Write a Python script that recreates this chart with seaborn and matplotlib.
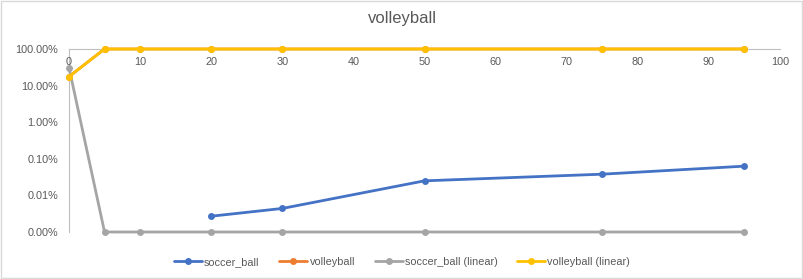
import numpy as np
import pandas as pd
import matplotlib
matplotlib.use("Agg")
import matplotlib.pyplot as plt
from matplotlib.patches import Rectangle
from matplotlib.ticker import FuncFormatter, FixedLocator, NullLocator
import seaborn as sns

# ----------------------------
# Data
# ----------------------------

soccer_x = [20, 30, 50, 75, 95]
soccer_y = [0.000027, 0.000044, 0.00025, 0.00038, 0.00063]

volley_x = [0, 5, 10, 20, 30, 50, 75, 95]
volley_y = [0.176, 1.0, 1.0, 1.0, 1.0, 1.0, 1.0, 1.0]

soccer_lin_x = [0, 5, 10, 20, 30, 50, 75, 95]
soccer_lin_y = [0.31, 0.00001, 0.00001, 0.00001, 0.00001, 0.00001, 0.00001, 0.00001]

volley_lin_x = [0, 5, 10, 20, 30, 50, 75, 95]
volley_lin_y = [0.176, 1.0, 1.0, 1.0, 1.0, 1.0, 1.0, 1.0]

y_ticks = [0.00001, 0.0001, 0.001, 0.01, 0.1, 1.0]
x_ticks = [0, 10, 20, 30, 40, 50, 60, 70, 80, 90, 100]

series = [
    ("soccer_ball", soccer_x, soccer_y, "#4472C4"),
    ("volleyball", volley_x, volley_y, "#ED7D31"),
    ("soccer_ball (linear)", soccer_lin_x, soccer_lin_y, "#A5A5A5"),
    ("volleyball (linear)", volley_lin_x, volley_lin_y, "#FFC000"),
]

# ----------------------------
# Style
# ----------------------------

sns.set_style("white")
plt.rcParams["font.family"] = ["Liberation Sans", "DejaVu Sans"]
text_color = "#595959"

fig = plt.figure(figsize=(8.04, 2.79), dpi=100)
ax = fig.add_axes([69 / 804, 1 - 232 / 279, (780 - 69) / 804, (232 - 49) / 279])

for name, xs, ys, color in series:
    df = pd.DataFrame({"x": xs, "y": ys})
    sns.lineplot(
        data=df, x="x", y="y", ax=ax,
        color=color, linewidth=2, marker="o", markersize=5,
        markeredgewidth=0, label=name, clip_on=False,
    )

ax.set_yscale("log")
ax.set_ylim(0.00001, 1.0)
ax.set_xlim(0, 100)

ax.yaxis.set_major_locator(FixedLocator(y_ticks))
ax.yaxis.set_minor_locator(NullLocator())
ax.yaxis.set_major_formatter(FuncFormatter(lambda v, p: f"{v * 100:.2f}%"))
ax.xaxis.set_major_locator(FixedLocator(x_ticks))

for s in ["top", "right"]:
    ax.spines[s].set_visible(False)
ax.spines["bottom"].set_position(("data", 1.0))
ax.spines["bottom"].set_color("#BFBFBF")
ax.spines["left"].set_color("#BFBFBF")
ax.spines["bottom"].set_zorder(0)
ax.spines["left"].set_zorder(0)

ax.tick_params(axis="both", length=0, labelsize=7.8, labelcolor=text_color)
ax.tick_params(axis="x", pad=6)
ax.tick_params(axis="y", pad=8)
ax.set_xlabel("")
ax.set_ylabel("")

fig.text(0.5, 1 - 18 / 279, "volleyball", ha="center", va="center",
         fontsize=12, color=text_color)

ax.legend_.remove()
handles, labels = ax.get_legend_handles_labels()
fig.legend(
    handles, labels, loc="center", bbox_to_anchor=(0.5, 1 - 262 / 279),
    ncol=4, frameon=False, fontsize=7.8, handlelength=2.6, columnspacing=1.8,
    labelcolor=text_color, handletextpad=0.2,
)

fig.patches.append(Rectangle((0.001, 0.002), 0.997, 0.995, transform=fig.transFigure,
                             fill=False, edgecolor="#D9D9D9", linewidth=1))

plt.savefig("out.png", dpi=100)
